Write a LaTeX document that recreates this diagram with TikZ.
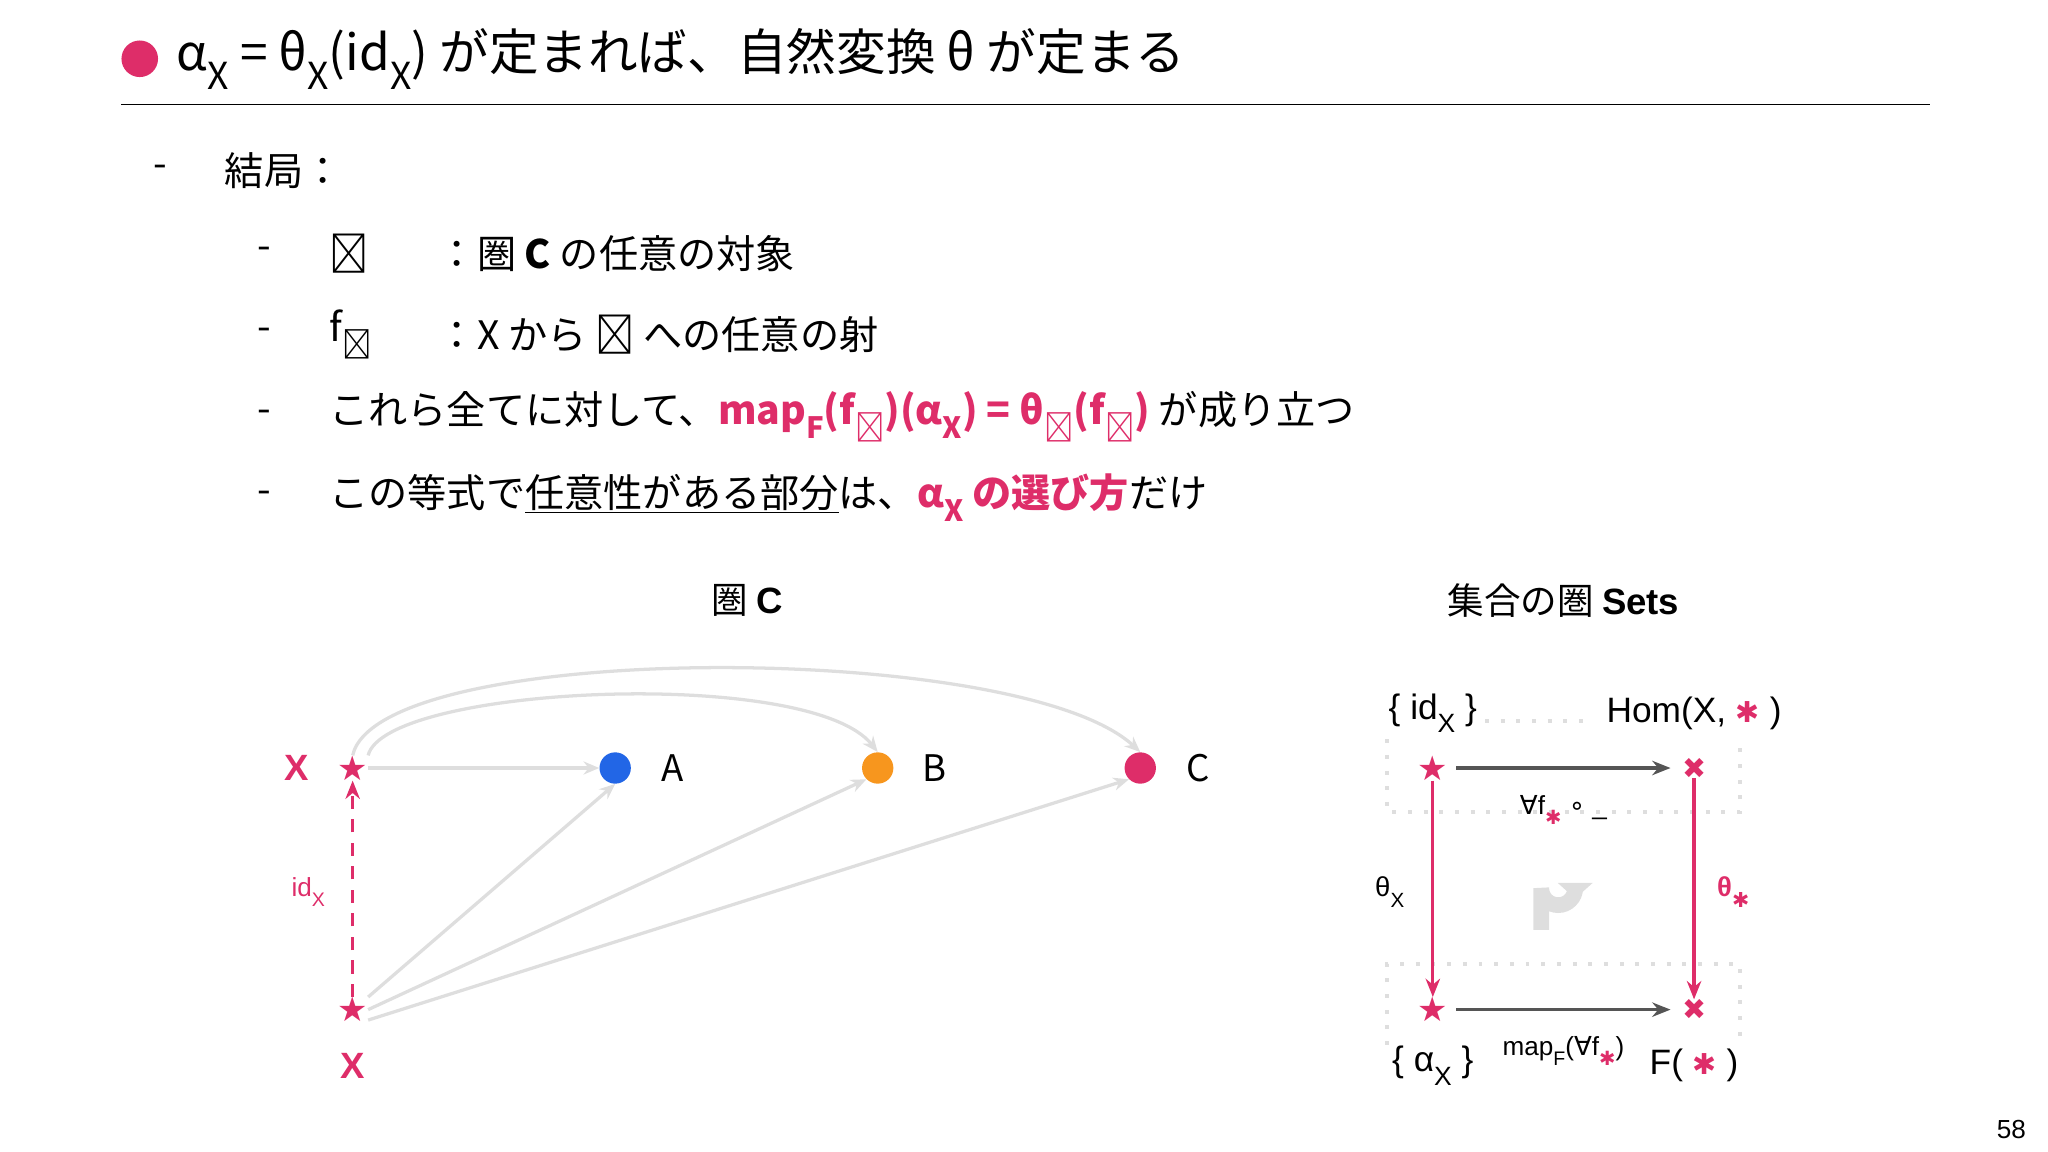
\documentclass[tikz,border=0pt]{standalone}
\usepackage{fontspec}
\usepackage{graphicx}
\setmainfont{Noto Sans CJK JP}
\newfontfamily\djv{DejaVu Sans}
\newfontfamily\hv{Liberation Sans}
\usetikzlibrary{arrows.meta}
\definecolor{mag}{RGB}{222,45,105}
\definecolor{lg}{RGB}{222,222,222}
\definecolor{dg}{RGB}{85,85,85}
\definecolor{bl}{RGB}{34,102,230}
\definecolor{org}{RGB}{247,150,30}
\newcommand{\lsub}[1]{\raisebox{-0.38em}{\scalebox{0.75}{#1}}}
\newcommand{\fs}[1]{\fontsize{#1}{#1}\selectfont}
\begin{document}
\begin{tikzpicture}[x=1pt,y=-1pt,
  txt/.style={inner sep=0pt,anchor=west,font=\fs{30}},
  lab/.style={inner sep=0pt,font=\fs{27}\hv},
  gar/.style={draw=lg,line width=2.5pt,-{Stealth[length=12pt,width=10pt]}},
  dar/.style={draw=dg,line width=2.5pt,-{Stealth[length=14pt,width=11pt]}},
  mar/.style={draw=mag,line width=2.5pt,-{Stealth[length=14pt,width=11pt]}},
  sym/.style={inner sep=0pt,text=mag,font=\fs{26}\djv},
  dotbox/.style={draw=lg,line width=3pt,dash pattern=on 3pt off 9pt}]
\useasboundingbox (0,0) rectangle (1568,882);
% title
\fill[mag] (107,45) circle (14);
\node[txt,font=\fs{38}] (title) at (135,45) {α\lsub{X} = θ\lsub{X}(id\lsub{X}) が定まれば、自然変換 θ が定まる};
\draw[line width=1.5pt] (93,80) -- (1478,80);
% bullets
\node[txt] (d1) at (117,131) {-};
\node[txt] (t1) at (172,131) {結局：};
\node[txt] (d2) at (197,194) {-};
\node[txt] (t2a) at (252,194) {∗};
\node[txt] (t2b) at (335,194) {：圏 \textbf{C} の任意の対象};
\node[txt] (d3) at (197,256) {-};
\node[txt] (t3a) at (252,256) {f\lsub{∗}};
\node[txt] (t3b) at (335,256) {：X から ∗ への任意の射};
\node[txt] (d4) at (197,319) {-};
\node[txt] (t4) at (252,319) {これら全てに対して、\textcolor{mag}{\textbf{map\lsub{F}(f\lsub{∗})(α\lsub{X}) = θ\lsub{∗}(f\lsub{∗})}} が成り立つ};
\node[txt] (d5) at (197,381) {-};
\node[txt] (t5) at (252,381) {この等式で\underline{任意性がある部分}は、\textcolor{mag}{\textbf{α\lsub{X} の選び方}}だけ};
% headings
\node[txt,anchor=center,font=\fs{28}] (h1) at (572,460) {圏 {\hv\bfseries C}};
\node[txt,anchor=center,font=\fs{28}] (h2) at (1197,460) {集合の圏 {\hv\bfseries Sets}};
% left diagram
\node[lab,text=mag,font=\fs{28}\hv\bfseries] (xl) at (227,588) {X};
\node[sym] (s1) at (270,588) {★};
\node[sym] (s2) at (270,773) {★};
\node[lab,text=mag,font=\fs{28}\hv\bfseries] (xb) at (270,816) {X};
\node[circle,fill=bl,minimum size=24pt,inner sep=0pt] (A) at (471,588) {};
\node[circle,fill=org,minimum size=24pt,inner sep=0pt] (B) at (672,588) {};
\node[circle,fill=mag,minimum size=24pt,inner sep=0pt] (C) at (873,588) {};
\node[lab,anchor=west,font=\fs{28}] (la) at (506,588) {A};
\node[lab,anchor=west,font=\fs{28}] (lb) at (706,588) {B};
\node[lab,anchor=west,font=\fs{28}] (lc) at (908,588) {C};
\draw[gar] (s1) -- (A);
\draw[gar] (s1.north east) .. controls (295,525) and (620,510) .. (B.north);
\draw[gar] (s1.north) .. controls (290,490) and (780,490) .. (C.north);
\draw[gar] (s2.north east) -- (A.south);
\draw[gar] (s2.east) -- (B.south west);
\draw[gar] ([yshift=-8pt]s2.east) -- (C.south west);
\draw[mar,dashed,dash pattern=on 10pt off 8pt] (s2) -- (s1);
\node[lab,text=mag,font=\fs{20}\hv] (idx) at (236,683) {id\lsub{X}};
% right diagram
\draw[dotbox] (1062,566) -- (1062,622) -- (1332,622) -- (1332,566);
\draw[dotbox] (1137,552) -- (1215,552);
\draw[dotbox] (1062,800) -- (1062,738) -- (1332,738) -- (1332,800);
\node[sym] (p1) at (1097,588) {★};
\node[sym] (p2) at (1097,773) {★};
\node[sym,font=\fs{22}\djv] (q1) at (1297,588) {✖};
\node[sym,font=\fs{22}\djv] (q2) at (1297,773) {✖};
\draw[dar] (1115,588) -- (1279,588);
\draw[dar] (1115,773) -- (1279,773);
\draw[mar] (p1) -- (p2);
\draw[mar] (q1) -- (q2);
\node[lab] (l1) at (1097,546) {\{ id\lsub{X} \}};
\node[lab] (l2) at (1297,546) {Hom(X,  {\djv\fs{22}\textcolor{mag}{✱}} )};
\node[lab,font=\fs{20}\hv] (l3) at (1197,620) {{\djv ∀}f\lsub{\textcolor{mag}{\djv ✱}} {\djv ∘} \_};
\node[lab,font=\fs{21}\hv] (l4) at (1064,683) {θ\lsub{X}};
\node[lab,font=\fs{21}\hv\bfseries,text=mag] (l5) at (1327,683) {θ\lsub{\djv ✱}};
\node[lab] (l6) at (1097,816) {\{ α\lsub{X} \}};
\node[lab,font=\fs{20}\hv,fill=white,inner sep=2pt] (l7) at (1197,805) {map\lsub{F}({\djv ∀}f\lsub{\textcolor{mag}{\djv ✱}})};
\node[lab] (l8) at (1297,816) {F( {\djv\fs{22}\textcolor{mag}{✱}} )};
\draw[draw=lg,line width=12pt,-{Triangle[length=12pt,width=26pt]}] (1180,712) -- (1180,680) arc[start angle=180,end angle=0,radius=13] -- (1206,688);
\node[lab,font=\fs{20}\hv] (pg) at (1540,865) {58};
\end{tikzpicture}
\end{document}
